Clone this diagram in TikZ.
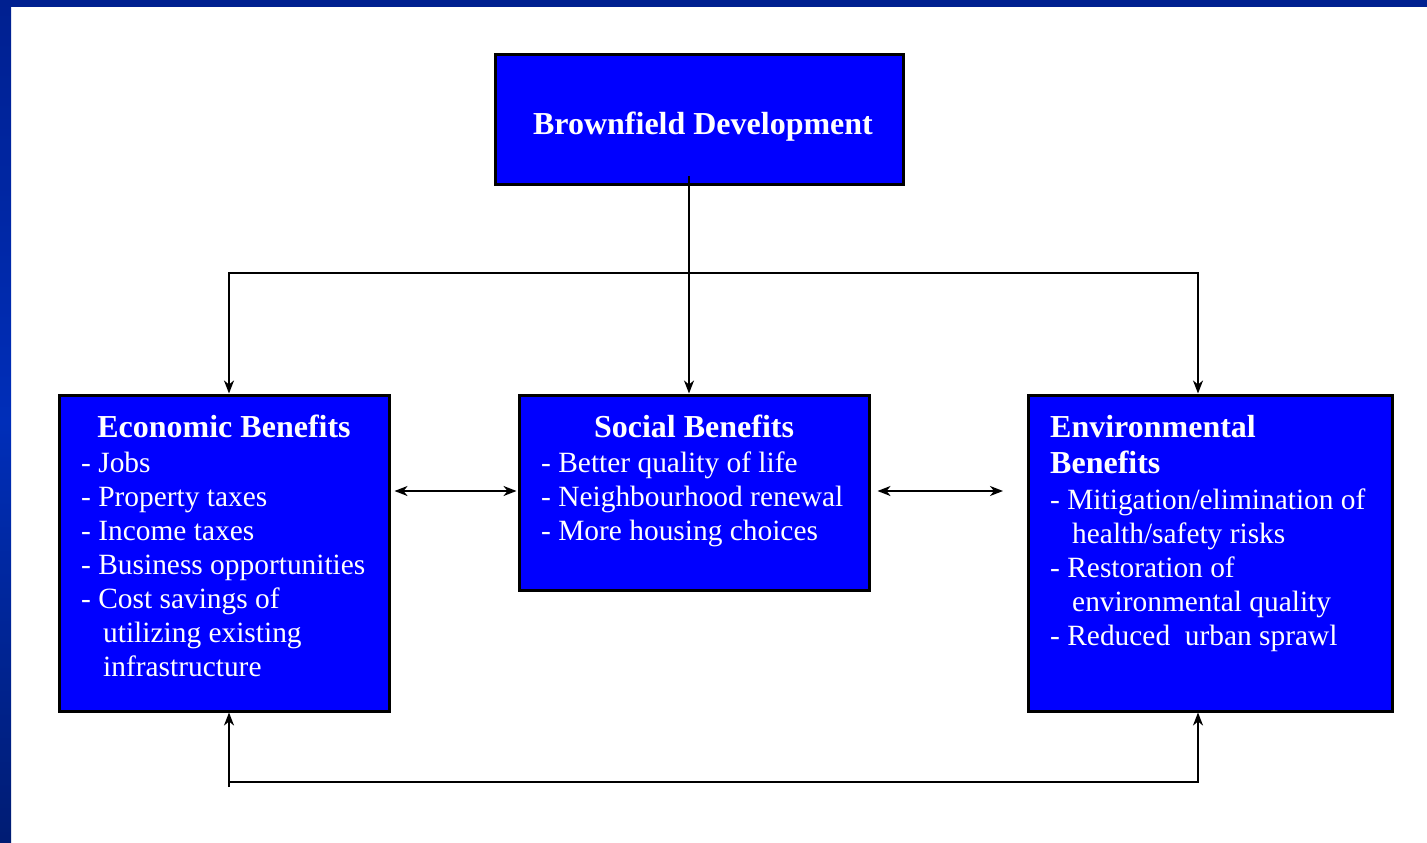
\documentclass[tikz,border=0pt]{standalone}
\usepackage{fontspec}
\setmainfont{Liberation Serif}
\usetikzlibrary{arrows.meta}
\definecolor{framedark}{RGB}{0,32,144}
\definecolor{framemid}{RGB}{0,46,185}
\definecolor{framelow}{RGB}{0,28,115}
\definecolor{boxblue}{RGB}{0,0,255}
\begin{document}
\begin{tikzpicture}[x=1pt,y=-1pt,
  panel/.style={draw=black,line width=3pt,fill=boxblue,inner sep=0pt},
  heading/.style={text=white,inner sep=0pt,font=\fontsize{32}{36}\selectfont\bfseries},
  item/.style={text=white,inner sep=0pt,anchor=base west,font=\fontsize{29.4}{34}\selectfont},
  link/.style={line width=1.8pt,draw=black},
  tip/.style={-{Stealth[length=13pt,width=10pt,inset=4pt]}},
  twotip/.style={{Stealth[length=13pt,width=10pt,inset=4pt]}-{Stealth[length=13pt,width=10pt,inset=4pt]}}]
\useasboundingbox (0,0) rectangle (1427,843);
% frame
\fill[white] (0,0) rectangle (1427,843);
\shade[top color=framedark,bottom color=framelow,middle color=framemid] (0,0) rectangle (11,843);
\fill[framedark] (0,0) rectangle (1427,7);

% boxes
\node[panel,minimum width=408pt,minimum height=129pt] (top) at (699,119.5) {};
\node[panel,minimum width=330pt,minimum height=316pt] (econ) at (224,553) {};
\node[panel,minimum width=350pt,minimum height=195pt] (soc) at (694,492.5) {};
\node[panel,minimum width=364pt,minimum height=316pt] (env) at (1210,553) {};

% top heading
\node[heading,anchor=base] (tt) at (703,134) {Brownfield Development};

% economic
\node[heading,anchor=base] (et) at (224,437) {Economic Benefits};
\node[item] (e1) at (81,472) {- Jobs};
\node[item] (e2) at (81,506) {- Property taxes};
\node[item] (e3) at (81,540) {- Income taxes};
\node[item] (e4) at (81,574) {- Business opportunities};
\node[item] (e5) at (81,608) {- Cost savings of};
\node[item] (e6) at (103,642) {utilizing existing};
\node[item] (e7) at (103,676) {infrastructure};

% social
\node[heading,anchor=base] (st) at (694,437) {Social Benefits};
\node[item] (s1) at (541,472) {- Better quality of life};
\node[item] (s2) at (541,506) {- Neighbourhood renewal};
\node[item] (s3) at (541,540) {- More housing choices};

% environmental
\node[heading,anchor=base west] (vt1) at (1050,437) {Environmental};
\node[heading,anchor=base west] (vt2) at (1050,473) {Benefits};
\node[item] (v1) at (1050,509) {- Mitigation/elimination of};
\node[item] (v2) at (1072,543) {health/safety risks};
\node[item] (v3) at (1050,577) {- Restoration of};
\node[item] (v4) at (1072,611) {environmental quality};
\node[item] (v5) at (1050,645) {- Reduced\ \ urban sprawl};

% connectors from the top box
\coordinate (src) at (689,176);
\coordinate (split) at (689,273);
\draw[link,tip] (src) -- (soc.north -| src);
\draw[link,tip] (split) -| ([xshift=5pt]econ.north);
\draw[link,tip] (split) -| ([xshift=-12pt]env.north);

% links between benefit boxes
\coordinate (sr) at (1003,491);
\draw[link,twotip] ([xshift=4pt]econ.east |- 0,491) -- ([xshift=-1pt]soc.west |- 0,491);
\draw[link,twotip] ([xshift=7pt]soc.east |- 0,491) -- (sr);

% bottom loop
\coordinate (bl) at (229,787);
\coordinate (bm) at (229,782);
\coordinate (br) at (1198,782);
\draw[link,tip] (bl) -- (bl |- econ.south);
\draw[link,tip] (bm) -- (br) -- (br |- env.south);
\end{tikzpicture}
\end{document}
